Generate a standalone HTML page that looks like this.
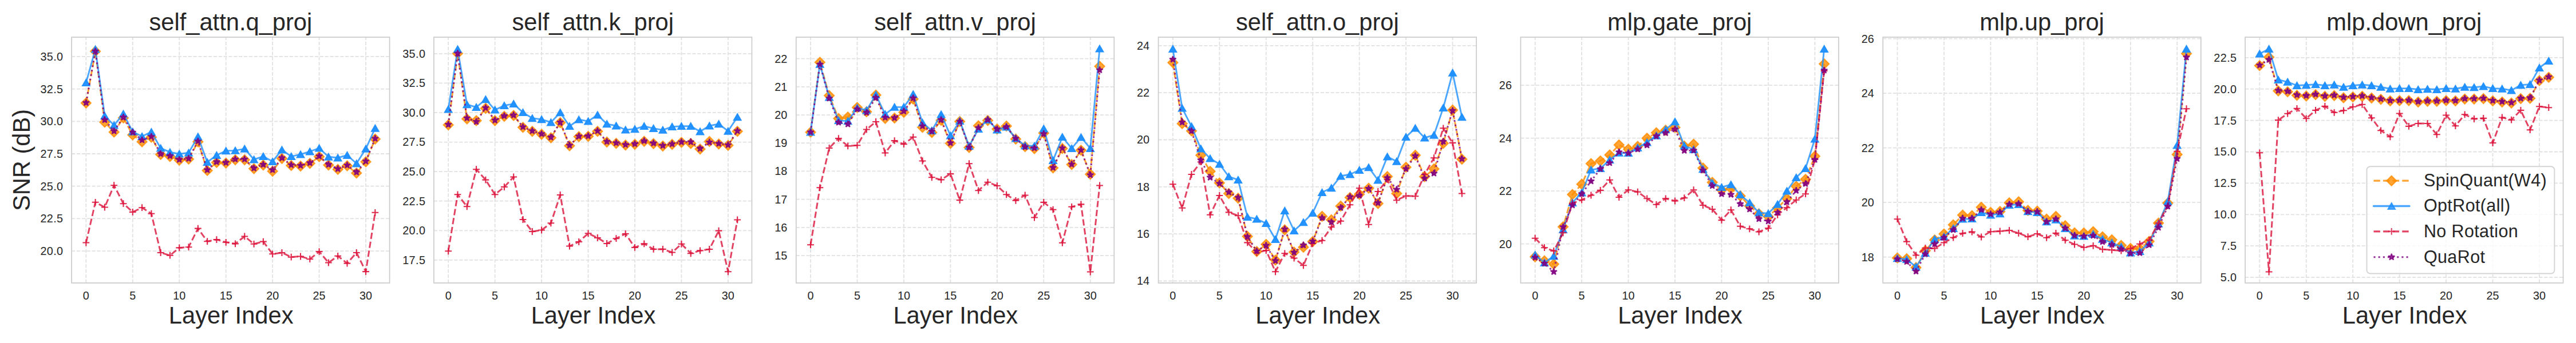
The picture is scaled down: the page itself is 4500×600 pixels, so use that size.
<!DOCTYPE html>
<html><head><meta charset="utf-8"><title>SNR per layer</title>
<style>html,body{margin:0;padding:0;background:#fff}svg{display:block}</style></head>
<body>
<svg width="4500" height="600" viewBox="0 0 4500 600" font-family="'Liberation Sans', Arial, sans-serif" fill="#262626">
<defs>
<path id="mD" d="M0,-8.55 L8.55,0 L0,8.55 L-8.55,0 Z" fill="#FF8C00" fill-opacity="0.8" stroke="#FF8C00" stroke-opacity="0.8" stroke-width="2.08" stroke-linejoin="miter"/>
<path id="mT" d="M0,-5.51 L6.25,5.36 L-6.25,5.36 Z" fill="#1E90FF" fill-opacity="0.96" stroke="#1E90FF" stroke-opacity="0.96" stroke-width="2.08" stroke-linejoin="miter"/>
<path id="mS" d="M0,-5.9 L1.32,-1.82 L5.61,-1.82 L2.14,0.7 L3.47,4.77 L0,2.25 L-3.47,4.77 L-2.14,0.7 L-5.61,-1.82 L-1.32,-1.82 Z" fill="#800080" fill-opacity="0.85" stroke="#800080" stroke-opacity="0.85" stroke-width="2.08" stroke-linejoin="bevel"/>
<path id="mP" d="M-5.9,0 H5.9 M0,-5.9 V5.9" fill="none" stroke="#DC143C" stroke-opacity="0.92" stroke-width="2.08"/>
<path id="mDl" d="M0,-8.55 L8.55,0 L0,8.55 L-8.55,0 Z" fill="#FF8C00" fill-opacity="0.8" stroke="#FF8C00" stroke-opacity="0.8" stroke-width="2.08" stroke-linejoin="miter"/>
<path id="mTl" d="M0,-5.51 L6.25,5.36 L-6.25,5.36 Z" fill="#1E90FF" fill-opacity="0.8" stroke="#1E90FF" stroke-opacity="0.8" stroke-width="2.08" stroke-linejoin="miter"/>
<path id="mSl" d="M0,-5.9 L1.32,-1.82 L5.61,-1.82 L2.14,0.7 L3.47,4.77 L0,2.25 L-3.47,4.77 L-2.14,0.7 L-5.61,-1.82 L-1.32,-1.82 Z" fill="#800080" fill-opacity="0.8" stroke="#800080" stroke-opacity="0.8" stroke-width="2.08" stroke-linejoin="bevel"/>
<path id="mPl" d="M-5.9,0 H5.9 M0,-5.9 V5.9" fill="none" stroke="#DC143C" stroke-opacity="0.8" stroke-width="2.08"/>
</defs>
<g>
<path d="M150.35,495 V65 M231.8,495 V65 M313.25,495 V65 M394.7,495 V65 M476.15,495 V65 M557.6,495 V65 M639.05,495 V65 M125.1,98.9 H680.6 M125.1,155.6 H680.6 M125.1,212.3 H680.6 M125.1,269 H680.6 M125.1,325.7 H680.6 M125.1,382.4 H680.6 M125.1,439.1 H680.6" fill="none" stroke="#e1e1e1" stroke-width="1.8" stroke-dasharray="6.18 2.67"/>
<polyline points="150.35,180.2 166.64,89.8 182.93,213.8 199.22,231 215.51,206.2 231.8,236 248.09,248 264.38,240 280.67,270.2 296.96,273.7 313.25,280.2 329.54,278.3 345.83,248 362.12,298.2 378.41,284.2 394.7,285.3 410.99,279.5 427.28,279.5 443.57,295.1 459.86,288.8 476.15,299.5 492.44,277.2 508.73,289.5 525.02,290.5 541.31,285.8 557.6,274.1 573.89,288.8 590.18,296.3 606.47,290 622.76,302.8 639.05,283 655.34,243.3" fill="none" stroke="#FF8C00" stroke-opacity="0.8" stroke-linejoin="round" stroke-width="3.0" stroke-dasharray="11.1 4.8"/>
<use href="#mD" x="150.35" y="180.2"/><use href="#mD" x="166.64" y="89.8"/><use href="#mD" x="182.93" y="213.8"/><use href="#mD" x="199.22" y="231"/><use href="#mD" x="215.51" y="206.2"/><use href="#mD" x="231.8" y="236"/><use href="#mD" x="248.09" y="248"/><use href="#mD" x="264.38" y="240"/><use href="#mD" x="280.67" y="270.2"/><use href="#mD" x="296.96" y="273.7"/><use href="#mD" x="313.25" y="280.2"/><use href="#mD" x="329.54" y="278.3"/><use href="#mD" x="345.83" y="248"/><use href="#mD" x="362.12" y="298.2"/><use href="#mD" x="378.41" y="284.2"/><use href="#mD" x="394.7" y="285.3"/><use href="#mD" x="410.99" y="279.5"/><use href="#mD" x="427.28" y="279.5"/><use href="#mD" x="443.57" y="295.1"/><use href="#mD" x="459.86" y="288.8"/><use href="#mD" x="476.15" y="299.5"/><use href="#mD" x="492.44" y="277.2"/><use href="#mD" x="508.73" y="289.5"/><use href="#mD" x="525.02" y="290.5"/><use href="#mD" x="541.31" y="285.8"/><use href="#mD" x="557.6" y="274.1"/><use href="#mD" x="573.89" y="288.8"/><use href="#mD" x="590.18" y="296.3"/><use href="#mD" x="606.47" y="290"/><use href="#mD" x="622.76" y="302.8"/><use href="#mD" x="639.05" y="283"/><use href="#mD" x="655.34" y="243.3"/>
<polyline points="150.35,144.6 166.64,86.2 182.93,202.7 199.22,219 215.51,199.2 231.8,230.4 248.09,238.5 264.38,230.8 280.67,259.2 296.96,266.2 313.25,269.2 329.54,267.3 345.83,239 362.12,283.7 378.41,271.5 394.7,263.8 410.99,263.4 427.28,260.3 443.57,279 459.86,273.6 476.15,282.5 492.44,262 508.73,273.6 525.02,270.1 541.31,265 557.6,259.2 573.89,274.3 590.18,276 606.47,271.5 622.76,286 639.05,260.3 655.34,224.3" fill="none" stroke="#1E90FF" stroke-opacity="0.8" stroke-linejoin="round" stroke-width="2.9"/>
<use href="#mT" x="150.35" y="144.6"/><use href="#mT" x="166.64" y="86.2"/><use href="#mT" x="182.93" y="202.7"/><use href="#mT" x="199.22" y="219"/><use href="#mT" x="215.51" y="199.2"/><use href="#mT" x="231.8" y="230.4"/><use href="#mT" x="248.09" y="238.5"/><use href="#mT" x="264.38" y="230.8"/><use href="#mT" x="280.67" y="259.2"/><use href="#mT" x="296.96" y="266.2"/><use href="#mT" x="313.25" y="269.2"/><use href="#mT" x="329.54" y="267.3"/><use href="#mT" x="345.83" y="239"/><use href="#mT" x="362.12" y="283.7"/><use href="#mT" x="378.41" y="271.5"/><use href="#mT" x="394.7" y="263.8"/><use href="#mT" x="410.99" y="263.4"/><use href="#mT" x="427.28" y="260.3"/><use href="#mT" x="443.57" y="279"/><use href="#mT" x="459.86" y="273.6"/><use href="#mT" x="476.15" y="282.5"/><use href="#mT" x="492.44" y="262"/><use href="#mT" x="508.73" y="273.6"/><use href="#mT" x="525.02" y="270.1"/><use href="#mT" x="541.31" y="265"/><use href="#mT" x="557.6" y="259.2"/><use href="#mT" x="573.89" y="274.3"/><use href="#mT" x="590.18" y="276"/><use href="#mT" x="606.47" y="271.5"/><use href="#mT" x="622.76" y="286"/><use href="#mT" x="639.05" y="260.3"/><use href="#mT" x="655.34" y="224.3"/>
<polyline points="150.35,424.5 166.64,353.8 182.93,362.5 199.22,324.2 215.51,356.2 231.8,370.9 248.09,363.2 264.38,373.7 280.67,442 296.96,446.7 313.25,433.4 329.54,432.2 345.83,399.6 362.12,422.2 378.41,419.1 394.7,423.8 410.99,426.4 427.28,413.5 443.57,426.8 459.86,422.6 476.15,444.3 492.44,442 508.73,449.7 525.02,448.5 541.31,453.2 557.6,440.1 573.89,459.5 590.18,447.8 606.47,460.6 622.76,442 639.05,475.1 655.34,371.8" fill="none" stroke="#DC143C" stroke-opacity="0.8" stroke-linejoin="round" stroke-width="3.0" stroke-dasharray="11.1 4.8"/>
<use href="#mP" x="150.35" y="424.5"/><use href="#mP" x="166.64" y="353.8"/><use href="#mP" x="182.93" y="362.5"/><use href="#mP" x="199.22" y="324.2"/><use href="#mP" x="215.51" y="356.2"/><use href="#mP" x="231.8" y="370.9"/><use href="#mP" x="248.09" y="363.2"/><use href="#mP" x="264.38" y="373.7"/><use href="#mP" x="280.67" y="442"/><use href="#mP" x="296.96" y="446.7"/><use href="#mP" x="313.25" y="433.4"/><use href="#mP" x="329.54" y="432.2"/><use href="#mP" x="345.83" y="399.6"/><use href="#mP" x="362.12" y="422.2"/><use href="#mP" x="378.41" y="419.1"/><use href="#mP" x="394.7" y="423.8"/><use href="#mP" x="410.99" y="426.4"/><use href="#mP" x="427.28" y="413.5"/><use href="#mP" x="443.57" y="426.8"/><use href="#mP" x="459.86" y="422.6"/><use href="#mP" x="476.15" y="444.3"/><use href="#mP" x="492.44" y="442"/><use href="#mP" x="508.73" y="449.7"/><use href="#mP" x="525.02" y="448.5"/><use href="#mP" x="541.31" y="453.2"/><use href="#mP" x="557.6" y="440.1"/><use href="#mP" x="573.89" y="459.5"/><use href="#mP" x="590.18" y="447.8"/><use href="#mP" x="606.47" y="460.6"/><use href="#mP" x="622.76" y="442"/><use href="#mP" x="639.05" y="475.1"/><use href="#mP" x="655.34" y="371.8"/>
<polyline points="150.35,179.7 166.64,89.6 182.93,209.7 199.22,229.2 215.51,205.1 231.8,231.5 248.09,245 264.38,239 280.67,269.2 296.96,272.7 313.25,279.2 329.54,277.3 345.83,247 362.12,297.2 378.41,283.2 394.7,284.3 410.99,278.5 427.28,278.5 443.57,294.1 459.86,287.8 476.15,297.2 492.44,276.2 508.73,288.5 525.02,289.5 541.31,284.8 557.6,273.1 573.89,287.8 590.18,295.3 606.47,289 622.76,301.1 639.05,282 655.34,242.3" fill="none" stroke="#800080" stroke-opacity="0.8" stroke-linejoin="round" stroke-width="3.0" stroke-dasharray="3.0 4.95"/>
<use href="#mS" x="150.35" y="179.7"/><use href="#mS" x="166.64" y="89.6"/><use href="#mS" x="182.93" y="209.7"/><use href="#mS" x="199.22" y="229.2"/><use href="#mS" x="215.51" y="205.1"/><use href="#mS" x="231.8" y="231.5"/><use href="#mS" x="248.09" y="245"/><use href="#mS" x="264.38" y="239"/><use href="#mS" x="280.67" y="269.2"/><use href="#mS" x="296.96" y="272.7"/><use href="#mS" x="313.25" y="279.2"/><use href="#mS" x="329.54" y="277.3"/><use href="#mS" x="345.83" y="247"/><use href="#mS" x="362.12" y="297.2"/><use href="#mS" x="378.41" y="283.2"/><use href="#mS" x="394.7" y="284.3"/><use href="#mS" x="410.99" y="278.5"/><use href="#mS" x="427.28" y="278.5"/><use href="#mS" x="443.57" y="294.1"/><use href="#mS" x="459.86" y="287.8"/><use href="#mS" x="476.15" y="297.2"/><use href="#mS" x="492.44" y="276.2"/><use href="#mS" x="508.73" y="288.5"/><use href="#mS" x="525.02" y="289.5"/><use href="#mS" x="541.31" y="284.8"/><use href="#mS" x="557.6" y="273.1"/><use href="#mS" x="573.89" y="287.8"/><use href="#mS" x="590.18" y="295.3"/><use href="#mS" x="606.47" y="289"/><use href="#mS" x="622.76" y="301.1"/><use href="#mS" x="639.05" y="282"/><use href="#mS" x="655.34" y="242.3"/>
<rect x="125.1" y="65" width="555.5" height="430" fill="none" stroke="#cccccc" stroke-width="1.74"/>
<text x="402.85" y="52.5" font-size="41.67" text-anchor="middle">self_attn.q_proj</text>
<text x="403.65" y="566.2" font-size="41.67" text-anchor="middle">Layer Index</text>
<g font-size="19.8" text-anchor="middle"><text x="150.35" y="523.5">0</text><text x="231.8" y="523.5">5</text><text x="313.25" y="523.5">10</text><text x="394.7" y="523.5">15</text><text x="476.15" y="523.5">20</text><text x="557.6" y="523.5">25</text><text x="639.05" y="523.5">30</text></g>
<g font-size="19.8" text-anchor="end" letter-spacing="0.4"><text x="110.5" y="105.8">35.0</text><text x="110.5" y="162.5">32.5</text><text x="110.5" y="219.2">30.0</text><text x="110.5" y="275.9">27.5</text><text x="110.5" y="332.6">25.0</text><text x="110.5" y="389.3">22.5</text><text x="110.5" y="446">20.0</text></g>
</g>
<g>
<path d="M783.18,495 V65 M864.63,495 V65 M946.08,495 V65 M1027.53,495 V65 M1108.98,495 V65 M1190.43,495 V65 M1271.88,495 V65 M757.93,93.8 H1313.43 M757.93,145.38 H1313.43 M757.93,196.96 H1313.43 M757.93,248.54 H1313.43 M757.93,300.12 H1313.43 M757.93,351.7 H1313.43 M757.93,403.28 H1313.43 M757.93,454.86 H1313.43" fill="none" stroke="#e1e1e1" stroke-width="1.8" stroke-dasharray="6.18 2.67"/>
<polyline points="783.18,218.6 799.47,93.6 815.76,208 832.05,211 848.34,189.4 864.63,211.1 880.92,203.5 897.21,202.1 913.5,222.8 929.79,229.8 946.08,234.9 962.37,241 978.66,214.6 994.95,255 1011.24,239.1 1027.53,238.6 1043.82,229.8 1060.11,248.4 1076.4,250.8 1092.69,253.8 1108.98,252.4 1125.27,247.3 1141.56,251.2 1157.85,255.4 1174.14,252.6 1190.43,249.1 1206.72,251 1223.01,260.8 1239.3,247.5 1255.59,251.9 1271.88,254.3 1288.17,229.8" fill="none" stroke="#FF8C00" stroke-opacity="0.8" stroke-linejoin="round" stroke-width="3.0" stroke-dasharray="11.1 4.8"/>
<use href="#mD" x="783.18" y="218.6"/><use href="#mD" x="799.47" y="93.6"/><use href="#mD" x="815.76" y="208"/><use href="#mD" x="832.05" y="211"/><use href="#mD" x="848.34" y="189.4"/><use href="#mD" x="864.63" y="211.1"/><use href="#mD" x="880.92" y="203.5"/><use href="#mD" x="897.21" y="202.1"/><use href="#mD" x="913.5" y="222.8"/><use href="#mD" x="929.79" y="229.8"/><use href="#mD" x="946.08" y="234.9"/><use href="#mD" x="962.37" y="241"/><use href="#mD" x="978.66" y="214.6"/><use href="#mD" x="994.95" y="255"/><use href="#mD" x="1011.24" y="239.1"/><use href="#mD" x="1027.53" y="238.6"/><use href="#mD" x="1043.82" y="229.8"/><use href="#mD" x="1060.11" y="248.4"/><use href="#mD" x="1076.4" y="250.8"/><use href="#mD" x="1092.69" y="253.8"/><use href="#mD" x="1108.98" y="252.4"/><use href="#mD" x="1125.27" y="247.3"/><use href="#mD" x="1141.56" y="251.2"/><use href="#mD" x="1157.85" y="255.4"/><use href="#mD" x="1174.14" y="252.6"/><use href="#mD" x="1190.43" y="249.1"/><use href="#mD" x="1206.72" y="251"/><use href="#mD" x="1223.01" y="260.8"/><use href="#mD" x="1239.3" y="247.5"/><use href="#mD" x="1255.59" y="251.9"/><use href="#mD" x="1271.88" y="254.3"/><use href="#mD" x="1288.17" y="229.8"/>
<polyline points="783.18,191 799.47,86 815.76,182.8 832.05,187.5 848.34,173.9 864.63,192.1 880.92,184.7 897.21,181.6 913.5,196.7 929.79,206.8 946.08,208.9 962.37,214 978.66,196.9 994.95,220.7 1011.24,209.2 1027.53,212.1 1043.82,201 1060.11,216.9 1076.4,220 1092.69,227 1108.98,225.8 1125.27,220.7 1141.56,224.6 1157.85,227.4 1174.14,221.6 1190.43,220.7 1206.72,220.7 1223.01,230 1239.3,220 1255.59,216.9 1271.88,229.3 1288.17,204.8" fill="none" stroke="#1E90FF" stroke-opacity="0.8" stroke-linejoin="round" stroke-width="2.9"/>
<use href="#mT" x="783.18" y="191"/><use href="#mT" x="799.47" y="86"/><use href="#mT" x="815.76" y="182.8"/><use href="#mT" x="832.05" y="187.5"/><use href="#mT" x="848.34" y="173.9"/><use href="#mT" x="864.63" y="192.1"/><use href="#mT" x="880.92" y="184.7"/><use href="#mT" x="897.21" y="181.6"/><use href="#mT" x="913.5" y="196.7"/><use href="#mT" x="929.79" y="206.8"/><use href="#mT" x="946.08" y="208.9"/><use href="#mT" x="962.37" y="214"/><use href="#mT" x="978.66" y="196.9"/><use href="#mT" x="994.95" y="220.7"/><use href="#mT" x="1011.24" y="209.2"/><use href="#mT" x="1027.53" y="212.1"/><use href="#mT" x="1043.82" y="201"/><use href="#mT" x="1060.11" y="216.9"/><use href="#mT" x="1076.4" y="220"/><use href="#mT" x="1092.69" y="227"/><use href="#mT" x="1108.98" y="225.8"/><use href="#mT" x="1125.27" y="220.7"/><use href="#mT" x="1141.56" y="224.6"/><use href="#mT" x="1157.85" y="227.4"/><use href="#mT" x="1174.14" y="221.6"/><use href="#mT" x="1190.43" y="220.7"/><use href="#mT" x="1206.72" y="220.7"/><use href="#mT" x="1223.01" y="230"/><use href="#mT" x="1239.3" y="220"/><use href="#mT" x="1255.59" y="216.9"/><use href="#mT" x="1271.88" y="229.3"/><use href="#mT" x="1288.17" y="204.8"/>
<polyline points="783.18,439.3 799.47,340.3 815.76,361.3 832.05,296.2 848.34,314.6 864.63,340.3 880.92,327 897.21,309.5 913.5,384 929.79,405 946.08,402.5 962.37,390.3 978.66,341 994.95,430.5 1011.24,423 1027.53,408.3 1043.82,416 1060.11,426 1076.4,417.2 1092.69,409 1108.98,432.9 1125.27,426.4 1141.56,435.9 1157.85,435.9 1174.14,441.5 1190.43,426.8 1206.72,443.3 1223.01,438.4 1239.3,436 1255.59,403.6 1271.88,475.3 1288.17,384.5" fill="none" stroke="#DC143C" stroke-opacity="0.8" stroke-linejoin="round" stroke-width="3.0" stroke-dasharray="11.1 4.8"/>
<use href="#mP" x="783.18" y="439.3"/><use href="#mP" x="799.47" y="340.3"/><use href="#mP" x="815.76" y="361.3"/><use href="#mP" x="832.05" y="296.2"/><use href="#mP" x="848.34" y="314.6"/><use href="#mP" x="864.63" y="340.3"/><use href="#mP" x="880.92" y="327"/><use href="#mP" x="897.21" y="309.5"/><use href="#mP" x="913.5" y="384"/><use href="#mP" x="929.79" y="405"/><use href="#mP" x="946.08" y="402.5"/><use href="#mP" x="962.37" y="390.3"/><use href="#mP" x="978.66" y="341"/><use href="#mP" x="994.95" y="430.5"/><use href="#mP" x="1011.24" y="423"/><use href="#mP" x="1027.53" y="408.3"/><use href="#mP" x="1043.82" y="416"/><use href="#mP" x="1060.11" y="426"/><use href="#mP" x="1076.4" y="417.2"/><use href="#mP" x="1092.69" y="409"/><use href="#mP" x="1108.98" y="432.9"/><use href="#mP" x="1125.27" y="426.4"/><use href="#mP" x="1141.56" y="435.9"/><use href="#mP" x="1157.85" y="435.9"/><use href="#mP" x="1174.14" y="441.5"/><use href="#mP" x="1190.43" y="426.8"/><use href="#mP" x="1206.72" y="443.3"/><use href="#mP" x="1223.01" y="438.4"/><use href="#mP" x="1239.3" y="436"/><use href="#mP" x="1255.59" y="403.6"/><use href="#mP" x="1271.88" y="475.3"/><use href="#mP" x="1288.17" y="384.5"/>
<polyline points="783.18,217.8 799.47,93.4 815.76,206.5 832.05,212.8 848.34,188.6 864.63,210.3 880.92,202.7 897.21,201.3 913.5,222 929.79,229 946.08,234.1 962.37,240.2 978.66,213.8 994.95,254.2 1011.24,238.3 1027.53,237.8 1043.82,229 1060.11,247.6 1076.4,250 1092.69,253 1108.98,251.6 1125.27,246.5 1141.56,250.4 1157.85,254.6 1174.14,251.8 1190.43,248.3 1206.72,248.3 1223.01,260 1239.3,248.8 1255.59,251.1 1271.88,253.5 1288.17,229" fill="none" stroke="#800080" stroke-opacity="0.8" stroke-linejoin="round" stroke-width="3.0" stroke-dasharray="3.0 4.95"/>
<use href="#mS" x="783.18" y="217.8"/><use href="#mS" x="799.47" y="93.4"/><use href="#mS" x="815.76" y="206.5"/><use href="#mS" x="832.05" y="212.8"/><use href="#mS" x="848.34" y="188.6"/><use href="#mS" x="864.63" y="210.3"/><use href="#mS" x="880.92" y="202.7"/><use href="#mS" x="897.21" y="201.3"/><use href="#mS" x="913.5" y="222"/><use href="#mS" x="929.79" y="229"/><use href="#mS" x="946.08" y="234.1"/><use href="#mS" x="962.37" y="240.2"/><use href="#mS" x="978.66" y="213.8"/><use href="#mS" x="994.95" y="254.2"/><use href="#mS" x="1011.24" y="238.3"/><use href="#mS" x="1027.53" y="237.8"/><use href="#mS" x="1043.82" y="229"/><use href="#mS" x="1060.11" y="247.6"/><use href="#mS" x="1076.4" y="250"/><use href="#mS" x="1092.69" y="253"/><use href="#mS" x="1108.98" y="251.6"/><use href="#mS" x="1125.27" y="246.5"/><use href="#mS" x="1141.56" y="250.4"/><use href="#mS" x="1157.85" y="254.6"/><use href="#mS" x="1174.14" y="251.8"/><use href="#mS" x="1190.43" y="248.3"/><use href="#mS" x="1206.72" y="248.3"/><use href="#mS" x="1223.01" y="260"/><use href="#mS" x="1239.3" y="248.8"/><use href="#mS" x="1255.59" y="251.1"/><use href="#mS" x="1271.88" y="253.5"/><use href="#mS" x="1288.17" y="229"/>
<rect x="757.93" y="65" width="555.5" height="430" fill="none" stroke="#cccccc" stroke-width="1.74"/>
<text x="1035.68" y="52.5" font-size="41.67" text-anchor="middle">self_attn.k_proj</text>
<text x="1036.48" y="566.2" font-size="41.67" text-anchor="middle">Layer Index</text>
<g font-size="19.8" text-anchor="middle"><text x="783.18" y="523.5">0</text><text x="864.63" y="523.5">5</text><text x="946.08" y="523.5">10</text><text x="1027.53" y="523.5">15</text><text x="1108.98" y="523.5">20</text><text x="1190.43" y="523.5">25</text><text x="1271.88" y="523.5">30</text></g>
<g font-size="19.8" text-anchor="end" letter-spacing="0.4"><text x="743.33" y="100.7">35.0</text><text x="743.33" y="152.28">32.5</text><text x="743.33" y="203.86">30.0</text><text x="743.33" y="255.44">27.5</text><text x="743.33" y="307.02">25.0</text><text x="743.33" y="358.6">22.5</text><text x="743.33" y="410.18">20.0</text><text x="743.33" y="461.76">17.5</text></g>
</g>
<g>
<path d="M1416.01,495 V65 M1497.46,495 V65 M1578.91,495 V65 M1660.36,495 V65 M1741.81,495 V65 M1823.26,495 V65 M1904.71,495 V65 M1390.76,102.7 H1946.26 M1390.76,151.89 H1946.26 M1390.76,201.08 H1946.26 M1390.76,250.27 H1946.26 M1390.76,299.46 H1946.26 M1390.76,348.65 H1946.26 M1390.76,397.84 H1946.26 M1390.76,447.03 H1946.26" fill="none" stroke="#e1e1e1" stroke-width="1.8" stroke-dasharray="6.18 2.67"/>
<polyline points="1416.01,231.2 1432.3,109 1448.59,167.3 1464.88,207.2 1481.17,204.8 1497.46,188 1513.75,195.5 1530.04,166.2 1546.33,207.2 1562.62,206.5 1578.91,196.5 1595.2,173.2 1611.49,222.8 1627.78,231.7 1644.07,210.5 1660.36,250.8 1676.65,212.5 1692.94,258 1709.23,220 1725.52,210.7 1741.81,225.8 1758.1,220.5 1774.39,243.3 1790.68,256.5 1806.97,260 1823.26,232.8 1839.55,293.8 1855.84,259.8 1872.13,287.8 1888.42,262.8 1904.71,304.8 1921,116" fill="none" stroke="#FF8C00" stroke-opacity="0.8" stroke-linejoin="round" stroke-width="3.0" stroke-dasharray="11.1 4.8"/>
<use href="#mD" x="1416.01" y="231.2"/><use href="#mD" x="1432.3" y="109"/><use href="#mD" x="1448.59" y="167.3"/><use href="#mD" x="1464.88" y="207.2"/><use href="#mD" x="1481.17" y="204.8"/><use href="#mD" x="1497.46" y="188"/><use href="#mD" x="1513.75" y="195.5"/><use href="#mD" x="1530.04" y="166.2"/><use href="#mD" x="1546.33" y="207.2"/><use href="#mD" x="1562.62" y="206.5"/><use href="#mD" x="1578.91" y="196.5"/><use href="#mD" x="1595.2" y="173.2"/><use href="#mD" x="1611.49" y="222.8"/><use href="#mD" x="1627.78" y="231.7"/><use href="#mD" x="1644.07" y="210.5"/><use href="#mD" x="1660.36" y="250.8"/><use href="#mD" x="1676.65" y="212.5"/><use href="#mD" x="1692.94" y="258"/><use href="#mD" x="1709.23" y="220"/><use href="#mD" x="1725.52" y="210.7"/><use href="#mD" x="1741.81" y="225.8"/><use href="#mD" x="1758.1" y="220.5"/><use href="#mD" x="1774.39" y="243.3"/><use href="#mD" x="1790.68" y="256.5"/><use href="#mD" x="1806.97" y="260"/><use href="#mD" x="1823.26" y="232.8"/><use href="#mD" x="1839.55" y="293.8"/><use href="#mD" x="1855.84" y="259.8"/><use href="#mD" x="1872.13" y="287.8"/><use href="#mD" x="1888.42" y="262.8"/><use href="#mD" x="1904.71" y="304.8"/><use href="#mD" x="1921" y="116"/>
<polyline points="1416.01,231 1432.3,112.3 1448.59,170 1464.88,210.7 1481.17,211.8 1497.46,188.5 1513.75,193 1530.04,165.8 1546.33,199.8 1562.62,187.4 1578.91,187.2 1595.2,164.8 1611.49,214.5 1627.78,228.5 1644.07,200 1660.36,237.1 1676.65,211.5 1692.94,255.5 1709.23,225.7 1725.52,209.5 1741.81,227 1758.1,222 1774.39,242 1790.68,254.8 1806.97,255.3 1823.26,225 1839.55,280.6 1855.84,239.7 1872.13,259.5 1888.42,240.1 1904.71,259.5 1921,85.2" fill="none" stroke="#1E90FF" stroke-opacity="0.8" stroke-linejoin="round" stroke-width="2.9"/>
<use href="#mT" x="1416.01" y="231"/><use href="#mT" x="1432.3" y="112.3"/><use href="#mT" x="1448.59" y="170"/><use href="#mT" x="1464.88" y="210.7"/><use href="#mT" x="1481.17" y="211.8"/><use href="#mT" x="1497.46" y="188.5"/><use href="#mT" x="1513.75" y="193"/><use href="#mT" x="1530.04" y="165.8"/><use href="#mT" x="1546.33" y="199.8"/><use href="#mT" x="1562.62" y="187.4"/><use href="#mT" x="1578.91" y="187.2"/><use href="#mT" x="1595.2" y="164.8"/><use href="#mT" x="1611.49" y="214.5"/><use href="#mT" x="1627.78" y="228.5"/><use href="#mT" x="1644.07" y="200"/><use href="#mT" x="1660.36" y="237.1"/><use href="#mT" x="1676.65" y="211.5"/><use href="#mT" x="1692.94" y="255.5"/><use href="#mT" x="1709.23" y="225.7"/><use href="#mT" x="1725.52" y="209.5"/><use href="#mT" x="1741.81" y="227"/><use href="#mT" x="1758.1" y="222"/><use href="#mT" x="1774.39" y="242"/><use href="#mT" x="1790.68" y="254.8"/><use href="#mT" x="1806.97" y="255.3"/><use href="#mT" x="1823.26" y="225"/><use href="#mT" x="1839.55" y="280.6"/><use href="#mT" x="1855.84" y="239.7"/><use href="#mT" x="1872.13" y="259.5"/><use href="#mT" x="1888.42" y="240.1"/><use href="#mT" x="1904.71" y="259.5"/><use href="#mT" x="1921" y="85.2"/>
<polyline points="1416.01,428.3 1432.3,328.2 1448.59,259 1464.88,242.1 1481.17,255.4 1497.46,254.2 1513.75,226.5 1530.04,213 1546.33,267.5 1562.62,246.1 1578.91,252.2 1595.2,239.8 1611.49,281.5 1627.78,310.3 1644.07,314.4 1660.36,304.1 1676.65,350.1 1692.94,286.2 1709.23,333.3 1725.52,318.7 1741.81,325 1758.1,340.3 1774.39,350.8 1790.68,341.5 1806.97,380.5 1823.26,353.9 1839.55,366.7 1855.84,424.8 1872.13,361.8 1888.42,357.4 1904.71,475.5 1921,324.5" fill="none" stroke="#DC143C" stroke-opacity="0.8" stroke-linejoin="round" stroke-width="3.0" stroke-dasharray="11.1 4.8"/>
<use href="#mP" x="1416.01" y="428.3"/><use href="#mP" x="1432.3" y="328.2"/><use href="#mP" x="1448.59" y="259"/><use href="#mP" x="1464.88" y="242.1"/><use href="#mP" x="1481.17" y="255.4"/><use href="#mP" x="1497.46" y="254.2"/><use href="#mP" x="1513.75" y="226.5"/><use href="#mP" x="1530.04" y="213"/><use href="#mP" x="1546.33" y="267.5"/><use href="#mP" x="1562.62" y="246.1"/><use href="#mP" x="1578.91" y="252.2"/><use href="#mP" x="1595.2" y="239.8"/><use href="#mP" x="1611.49" y="281.5"/><use href="#mP" x="1627.78" y="310.3"/><use href="#mP" x="1644.07" y="314.4"/><use href="#mP" x="1660.36" y="304.1"/><use href="#mP" x="1676.65" y="350.1"/><use href="#mP" x="1692.94" y="286.2"/><use href="#mP" x="1709.23" y="333.3"/><use href="#mP" x="1725.52" y="318.7"/><use href="#mP" x="1741.81" y="325"/><use href="#mP" x="1758.1" y="340.3"/><use href="#mP" x="1774.39" y="350.8"/><use href="#mP" x="1790.68" y="341.5"/><use href="#mP" x="1806.97" y="380.5"/><use href="#mP" x="1823.26" y="353.9"/><use href="#mP" x="1839.55" y="366.7"/><use href="#mP" x="1855.84" y="424.8"/><use href="#mP" x="1872.13" y="361.8"/><use href="#mP" x="1888.42" y="357.4"/><use href="#mP" x="1904.71" y="475.5"/><use href="#mP" x="1921" y="324.5"/>
<polyline points="1416.01,231.2 1432.3,112.5 1448.59,172 1464.88,214.2 1481.17,217.2 1497.46,190.8 1513.75,197 1530.04,170.8 1546.33,205.5 1562.62,206.2 1578.91,194.5 1595.2,171.5 1611.49,220.5 1627.78,229.8 1644.07,209.5 1660.36,250 1676.65,212.5 1692.94,257.8 1709.23,223.5 1725.52,209.5 1741.81,225.8 1758.1,221.9 1774.39,242.2 1790.68,257 1806.97,259 1823.26,234 1839.55,293.2 1855.84,259 1872.13,287.3 1888.42,262.5 1904.71,306 1921,122.5" fill="none" stroke="#800080" stroke-opacity="0.8" stroke-linejoin="round" stroke-width="3.0" stroke-dasharray="3.0 4.95"/>
<use href="#mS" x="1416.01" y="231.2"/><use href="#mS" x="1432.3" y="112.5"/><use href="#mS" x="1448.59" y="172"/><use href="#mS" x="1464.88" y="214.2"/><use href="#mS" x="1481.17" y="217.2"/><use href="#mS" x="1497.46" y="190.8"/><use href="#mS" x="1513.75" y="197"/><use href="#mS" x="1530.04" y="170.8"/><use href="#mS" x="1546.33" y="205.5"/><use href="#mS" x="1562.62" y="206.2"/><use href="#mS" x="1578.91" y="194.5"/><use href="#mS" x="1595.2" y="171.5"/><use href="#mS" x="1611.49" y="220.5"/><use href="#mS" x="1627.78" y="229.8"/><use href="#mS" x="1644.07" y="209.5"/><use href="#mS" x="1660.36" y="250"/><use href="#mS" x="1676.65" y="212.5"/><use href="#mS" x="1692.94" y="257.8"/><use href="#mS" x="1709.23" y="223.5"/><use href="#mS" x="1725.52" y="209.5"/><use href="#mS" x="1741.81" y="225.8"/><use href="#mS" x="1758.1" y="221.9"/><use href="#mS" x="1774.39" y="242.2"/><use href="#mS" x="1790.68" y="257"/><use href="#mS" x="1806.97" y="259"/><use href="#mS" x="1823.26" y="234"/><use href="#mS" x="1839.55" y="293.2"/><use href="#mS" x="1855.84" y="259"/><use href="#mS" x="1872.13" y="287.3"/><use href="#mS" x="1888.42" y="262.5"/><use href="#mS" x="1904.71" y="306"/><use href="#mS" x="1921" y="122.5"/>
<rect x="1390.76" y="65" width="555.5" height="430" fill="none" stroke="#cccccc" stroke-width="1.74"/>
<text x="1668.51" y="52.5" font-size="41.67" text-anchor="middle">self_attn.v_proj</text>
<text x="1669.31" y="566.2" font-size="41.67" text-anchor="middle">Layer Index</text>
<g font-size="19.8" text-anchor="middle"><text x="1416.01" y="523.5">0</text><text x="1497.46" y="523.5">5</text><text x="1578.91" y="523.5">10</text><text x="1660.36" y="523.5">15</text><text x="1741.81" y="523.5">20</text><text x="1823.26" y="523.5">25</text><text x="1904.71" y="523.5">30</text></g>
<g font-size="19.8" text-anchor="end" letter-spacing="0.15"><text x="1375.46" y="109.6">22</text><text x="1375.46" y="158.79">21</text><text x="1375.46" y="207.98">20</text><text x="1375.46" y="257.17">19</text><text x="1375.46" y="306.36">18</text><text x="1375.46" y="355.55">17</text><text x="1375.46" y="404.74">16</text><text x="1375.46" y="453.93">15</text></g>
</g>
<g>
<path d="M2048.84,495 V65 M2130.29,495 V65 M2211.74,495 V65 M2293.19,495 V65 M2374.64,495 V65 M2456.09,495 V65 M2537.54,495 V65 M2023.59,79.8 H2579.09 M2023.59,162.14 H2579.09 M2023.59,244.48 H2579.09 M2023.59,326.82 H2579.09 M2023.59,409.16 H2579.09 M2023.59,491.5 H2579.09" fill="none" stroke="#e1e1e1" stroke-width="1.8" stroke-dasharray="6.18 2.67"/>
<polyline points="2048.84,109.5 2065.13,216.2 2081.42,229 2097.71,271.5 2114,299.7 2130.29,320 2146.58,338.5 2162.87,346.7 2179.16,413.6 2195.45,440 2211.74,427.6 2228.03,455 2244.32,402 2260.61,441 2276.9,432.5 2293.19,422.5 2309.48,378.4 2325.77,384.5 2342.06,360.6 2358.35,345.5 2374.64,339.7 2390.93,329.2 2407.22,356 2423.51,308.8 2439.8,338.5 2456.09,292.5 2472.38,271.5 2488.67,309 2504.96,295.5 2521.25,250.8 2537.54,192.5 2553.83,278.5" fill="none" stroke="#FF8C00" stroke-opacity="0.8" stroke-linejoin="round" stroke-width="3.0" stroke-dasharray="11.1 4.8"/>
<use href="#mD" x="2048.84" y="109.5"/><use href="#mD" x="2065.13" y="216.2"/><use href="#mD" x="2081.42" y="229"/><use href="#mD" x="2097.71" y="271.5"/><use href="#mD" x="2114" y="299.7"/><use href="#mD" x="2130.29" y="320"/><use href="#mD" x="2146.58" y="338.5"/><use href="#mD" x="2162.87" y="346.7"/><use href="#mD" x="2179.16" y="413.6"/><use href="#mD" x="2195.45" y="440"/><use href="#mD" x="2211.74" y="427.6"/><use href="#mD" x="2228.03" y="455"/><use href="#mD" x="2244.32" y="402"/><use href="#mD" x="2260.61" y="441"/><use href="#mD" x="2276.9" y="432.5"/><use href="#mD" x="2293.19" y="422.5"/><use href="#mD" x="2309.48" y="378.4"/><use href="#mD" x="2325.77" y="384.5"/><use href="#mD" x="2342.06" y="360.6"/><use href="#mD" x="2358.35" y="345.5"/><use href="#mD" x="2374.64" y="339.7"/><use href="#mD" x="2390.93" y="329.2"/><use href="#mD" x="2407.22" y="356"/><use href="#mD" x="2423.51" y="308.8"/><use href="#mD" x="2439.8" y="338.5"/><use href="#mD" x="2456.09" y="292.5"/><use href="#mD" x="2472.38" y="271.5"/><use href="#mD" x="2488.67" y="309"/><use href="#mD" x="2504.96" y="295.5"/><use href="#mD" x="2521.25" y="250.8"/><use href="#mD" x="2537.54" y="192.5"/><use href="#mD" x="2553.83" y="278.5"/>
<polyline points="2048.84,85.5 2065.13,189.2 2081.42,221.1 2097.71,260 2114,277.2 2130.29,287 2146.58,308.8 2162.87,314.6 2179.16,379.5 2195.45,383.2 2211.74,390.6 2228.03,418.6 2244.32,368.5 2260.61,403.5 2276.9,388.8 2293.19,372.5 2309.48,336.5 2325.77,328.8 2342.06,308 2358.35,305 2374.64,297.5 2390.93,292.8 2407.22,315 2423.51,274.1 2439.8,282.3 2456.09,239.6 2472.38,224.2 2488.67,241 2504.96,236.3 2521.25,188.6 2537.54,127.4 2553.83,204.8" fill="none" stroke="#1E90FF" stroke-opacity="0.8" stroke-linejoin="round" stroke-width="2.9"/>
<use href="#mT" x="2048.84" y="85.5"/><use href="#mT" x="2065.13" y="189.2"/><use href="#mT" x="2081.42" y="221.1"/><use href="#mT" x="2097.71" y="260"/><use href="#mT" x="2114" y="277.2"/><use href="#mT" x="2130.29" y="287"/><use href="#mT" x="2146.58" y="308.8"/><use href="#mT" x="2162.87" y="314.6"/><use href="#mT" x="2179.16" y="379.5"/><use href="#mT" x="2195.45" y="383.2"/><use href="#mT" x="2211.74" y="390.6"/><use href="#mT" x="2228.03" y="418.6"/><use href="#mT" x="2244.32" y="368.5"/><use href="#mT" x="2260.61" y="403.5"/><use href="#mT" x="2276.9" y="388.8"/><use href="#mT" x="2293.19" y="372.5"/><use href="#mT" x="2309.48" y="336.5"/><use href="#mT" x="2325.77" y="328.8"/><use href="#mT" x="2342.06" y="308"/><use href="#mT" x="2358.35" y="305"/><use href="#mT" x="2374.64" y="297.5"/><use href="#mT" x="2390.93" y="292.8"/><use href="#mT" x="2407.22" y="315"/><use href="#mT" x="2423.51" y="274.1"/><use href="#mT" x="2439.8" y="282.3"/><use href="#mT" x="2456.09" y="239.6"/><use href="#mT" x="2472.38" y="224.2"/><use href="#mT" x="2488.67" y="241"/><use href="#mT" x="2504.96" y="236.3"/><use href="#mT" x="2521.25" y="188.6"/><use href="#mT" x="2537.54" y="127.4"/><use href="#mT" x="2553.83" y="204.8"/>
<polyline points="2048.84,322.2 2065.13,363.8 2081.42,305 2097.71,283.2 2114,375.8 2130.29,342 2146.58,371.4 2162.87,377.2 2179.16,424.4 2195.45,442 2211.74,438 2228.03,475.3 2244.32,443.3 2260.61,451.5 2276.9,464.3 2293.19,425.9 2309.48,420.7 2325.77,397.3 2342.06,386.8 2358.35,358.3 2374.64,329.2 2390.93,392.7 2407.22,335 2423.51,314 2439.8,350.2 2456.09,342.7 2472.38,343.2 2488.67,305 2504.96,276.2 2521.25,224.3 2537.54,249.9 2553.83,338.5" fill="none" stroke="#DC143C" stroke-opacity="0.8" stroke-linejoin="round" stroke-width="3.0" stroke-dasharray="11.1 4.8"/>
<use href="#mP" x="2048.84" y="322.2"/><use href="#mP" x="2065.13" y="363.8"/><use href="#mP" x="2081.42" y="305"/><use href="#mP" x="2097.71" y="283.2"/><use href="#mP" x="2114" y="375.8"/><use href="#mP" x="2130.29" y="342"/><use href="#mP" x="2146.58" y="371.4"/><use href="#mP" x="2162.87" y="377.2"/><use href="#mP" x="2179.16" y="424.4"/><use href="#mP" x="2195.45" y="442"/><use href="#mP" x="2211.74" y="438"/><use href="#mP" x="2228.03" y="475.3"/><use href="#mP" x="2244.32" y="443.3"/><use href="#mP" x="2260.61" y="451.5"/><use href="#mP" x="2276.9" y="464.3"/><use href="#mP" x="2293.19" y="425.9"/><use href="#mP" x="2309.48" y="420.7"/><use href="#mP" x="2325.77" y="397.3"/><use href="#mP" x="2342.06" y="386.8"/><use href="#mP" x="2358.35" y="358.3"/><use href="#mP" x="2374.64" y="329.2"/><use href="#mP" x="2390.93" y="392.7"/><use href="#mP" x="2407.22" y="335"/><use href="#mP" x="2423.51" y="314"/><use href="#mP" x="2439.8" y="350.2"/><use href="#mP" x="2456.09" y="342.7"/><use href="#mP" x="2472.38" y="343.2"/><use href="#mP" x="2488.67" y="305"/><use href="#mP" x="2504.96" y="276.2"/><use href="#mP" x="2521.25" y="224.3"/><use href="#mP" x="2537.54" y="249.9"/><use href="#mP" x="2553.83" y="338.5"/>
<polyline points="2048.84,103.9 2065.13,213.8 2081.42,229 2097.71,280.1 2114,310.3 2130.29,321 2146.58,336.2 2162.87,345.5 2179.16,414.1 2195.45,439.3 2211.74,429.3 2228.03,456.2 2244.32,400.8 2260.61,441.5 2276.9,428.8 2293.19,422 2309.48,381 2325.77,388.5 2342.06,363.3 2358.35,344.3 2374.64,342 2390.93,329.9 2407.22,354.8 2423.51,311 2439.8,331.5 2456.09,295.3 2472.38,272.7 2488.67,312 2504.96,303.2 2521.25,247.5 2537.54,193.5 2553.83,277.8" fill="none" stroke="#800080" stroke-opacity="0.8" stroke-linejoin="round" stroke-width="3.0" stroke-dasharray="3.0 4.95"/>
<use href="#mS" x="2048.84" y="103.9"/><use href="#mS" x="2065.13" y="213.8"/><use href="#mS" x="2081.42" y="229"/><use href="#mS" x="2097.71" y="280.1"/><use href="#mS" x="2114" y="310.3"/><use href="#mS" x="2130.29" y="321"/><use href="#mS" x="2146.58" y="336.2"/><use href="#mS" x="2162.87" y="345.5"/><use href="#mS" x="2179.16" y="414.1"/><use href="#mS" x="2195.45" y="439.3"/><use href="#mS" x="2211.74" y="429.3"/><use href="#mS" x="2228.03" y="456.2"/><use href="#mS" x="2244.32" y="400.8"/><use href="#mS" x="2260.61" y="441.5"/><use href="#mS" x="2276.9" y="428.8"/><use href="#mS" x="2293.19" y="422"/><use href="#mS" x="2309.48" y="381"/><use href="#mS" x="2325.77" y="388.5"/><use href="#mS" x="2342.06" y="363.3"/><use href="#mS" x="2358.35" y="344.3"/><use href="#mS" x="2374.64" y="342"/><use href="#mS" x="2390.93" y="329.9"/><use href="#mS" x="2407.22" y="354.8"/><use href="#mS" x="2423.51" y="311"/><use href="#mS" x="2439.8" y="331.5"/><use href="#mS" x="2456.09" y="295.3"/><use href="#mS" x="2472.38" y="272.7"/><use href="#mS" x="2488.67" y="312"/><use href="#mS" x="2504.96" y="303.2"/><use href="#mS" x="2521.25" y="247.5"/><use href="#mS" x="2537.54" y="193.5"/><use href="#mS" x="2553.83" y="277.8"/>
<rect x="2023.59" y="65" width="555.5" height="430" fill="none" stroke="#cccccc" stroke-width="1.74"/>
<text x="2301.34" y="52.5" font-size="41.67" text-anchor="middle">self_attn.o_proj</text>
<text x="2302.14" y="566.2" font-size="41.67" text-anchor="middle">Layer Index</text>
<g font-size="19.8" text-anchor="middle"><text x="2048.84" y="523.5">0</text><text x="2130.29" y="523.5">5</text><text x="2211.74" y="523.5">10</text><text x="2293.19" y="523.5">15</text><text x="2374.64" y="523.5">20</text><text x="2456.09" y="523.5">25</text><text x="2537.54" y="523.5">30</text></g>
<g font-size="19.8" text-anchor="end" letter-spacing="0.15"><text x="2008.29" y="86.7">24</text><text x="2008.29" y="169.04">22</text><text x="2008.29" y="251.38">20</text><text x="2008.29" y="333.72">18</text><text x="2008.29" y="416.06">16</text><text x="2008.29" y="498.4">14</text></g>
</g>
<g>
<path d="M2681.67,495 V65 M2763.12,495 V65 M2844.57,495 V65 M2926.02,495 V65 M3007.47,495 V65 M3088.92,495 V65 M3170.37,495 V65 M2656.42,149.2 H3211.92 M2656.42,241.7 H3211.92 M2656.42,334.2 H3211.92 M2656.42,426.7 H3211.92" fill="none" stroke="#e1e1e1" stroke-width="1.8" stroke-dasharray="6.18 2.67"/>
<polyline points="2681.67,449.2 2697.96,456.2 2714.25,462 2730.54,396.8 2746.83,340.3 2763.12,322.3 2779.41,286.2 2795.7,281.5 2811.99,271 2828.28,253.5 2844.57,261 2860.86,256.1 2877.15,241.7 2893.44,232.3 2909.73,227.7 2926.02,223 2942.31,255.6 2958.6,252.2 2974.89,293.9 2991.18,319 3007.47,332.2 3023.76,329.8 3040.05,342.7 3056.34,360.2 3072.63,374.1 3088.92,378.8 3105.21,363.7 3121.5,347.3 3137.79,326 3154.08,313.8 3170.37,273.2 3186.66,111.8" fill="none" stroke="#FF8C00" stroke-opacity="0.8" stroke-linejoin="round" stroke-width="3.0" stroke-dasharray="11.1 4.8"/>
<use href="#mD" x="2681.67" y="449.2"/><use href="#mD" x="2697.96" y="456.2"/><use href="#mD" x="2714.25" y="462"/><use href="#mD" x="2730.54" y="396.8"/><use href="#mD" x="2746.83" y="340.3"/><use href="#mD" x="2763.12" y="322.3"/><use href="#mD" x="2779.41" y="286.2"/><use href="#mD" x="2795.7" y="281.5"/><use href="#mD" x="2811.99" y="271"/><use href="#mD" x="2828.28" y="253.5"/><use href="#mD" x="2844.57" y="261"/><use href="#mD" x="2860.86" y="256.1"/><use href="#mD" x="2877.15" y="241.7"/><use href="#mD" x="2893.44" y="232.3"/><use href="#mD" x="2909.73" y="227.7"/><use href="#mD" x="2926.02" y="223"/><use href="#mD" x="2942.31" y="255.6"/><use href="#mD" x="2958.6" y="252.2"/><use href="#mD" x="2974.89" y="293.9"/><use href="#mD" x="2991.18" y="319"/><use href="#mD" x="3007.47" y="332.2"/><use href="#mD" x="3023.76" y="329.8"/><use href="#mD" x="3040.05" y="342.7"/><use href="#mD" x="3056.34" y="360.2"/><use href="#mD" x="3072.63" y="374.1"/><use href="#mD" x="3088.92" y="378.8"/><use href="#mD" x="3105.21" y="363.7"/><use href="#mD" x="3121.5" y="347.3"/><use href="#mD" x="3137.79" y="326"/><use href="#mD" x="3154.08" y="313.8"/><use href="#mD" x="3170.37" y="273.2"/><use href="#mD" x="3186.66" y="111.8"/>
<polyline points="2681.67,445.8 2697.96,459.5 2714.25,448 2730.54,401.5 2746.83,354.6 2763.12,337.1 2779.41,297 2795.7,294.6 2811.99,279.5 2828.28,267.3 2844.57,267.6 2860.86,258.3 2877.15,249 2893.44,237.3 2909.73,226.8 2926.02,212.8 2942.31,255 2958.6,261.5 2974.89,295.8 2991.18,320 3007.47,327.5 3023.76,322.8 3040.05,340.6 3056.34,354.6 3072.63,372.1 3088.92,373.3 3105.21,357.4 3121.5,334.1 3137.79,310.5 3154.08,294.6 3170.37,243.1 3186.66,85.5" fill="none" stroke="#1E90FF" stroke-opacity="0.8" stroke-linejoin="round" stroke-width="2.9"/>
<use href="#mT" x="2681.67" y="445.8"/><use href="#mT" x="2697.96" y="459.5"/><use href="#mT" x="2714.25" y="448"/><use href="#mT" x="2730.54" y="401.5"/><use href="#mT" x="2746.83" y="354.6"/><use href="#mT" x="2763.12" y="337.1"/><use href="#mT" x="2779.41" y="297"/><use href="#mT" x="2795.7" y="294.6"/><use href="#mT" x="2811.99" y="279.5"/><use href="#mT" x="2828.28" y="267.3"/><use href="#mT" x="2844.57" y="267.6"/><use href="#mT" x="2860.86" y="258.3"/><use href="#mT" x="2877.15" y="249"/><use href="#mT" x="2893.44" y="237.3"/><use href="#mT" x="2909.73" y="226.8"/><use href="#mT" x="2926.02" y="212.8"/><use href="#mT" x="2942.31" y="255"/><use href="#mT" x="2958.6" y="261.5"/><use href="#mT" x="2974.89" y="295.8"/><use href="#mT" x="2991.18" y="320"/><use href="#mT" x="3007.47" y="327.5"/><use href="#mT" x="3023.76" y="322.8"/><use href="#mT" x="3040.05" y="340.6"/><use href="#mT" x="3056.34" y="354.6"/><use href="#mT" x="3072.63" y="372.1"/><use href="#mT" x="3088.92" y="373.3"/><use href="#mT" x="3105.21" y="357.4"/><use href="#mT" x="3121.5" y="334.1"/><use href="#mT" x="3137.79" y="310.5"/><use href="#mT" x="3154.08" y="294.6"/><use href="#mT" x="3170.37" y="243.1"/><use href="#mT" x="3186.66" y="85.5"/>
<polyline points="2681.67,416.7 2697.96,433.2 2714.25,439 2730.54,407.3 2746.83,355.5 2763.12,349.7 2779.41,341.5 2795.7,332.9 2811.99,314.7 2828.28,345 2844.57,332.2 2860.86,335.7 2877.15,347.3 2893.44,357.8 2909.73,347.3 2926.02,351.5 2942.31,346.2 2958.6,332.2 2974.89,359 2991.18,366 3007.47,385.1 3023.76,367.2 3040.05,395.7 3056.34,400.3 3072.63,405.5 3088.92,399.2 3105.21,375.8 3121.5,363.2 3137.79,349.7 3154.08,339.2 3170.37,279 3186.66,124" fill="none" stroke="#DC143C" stroke-opacity="0.8" stroke-linejoin="round" stroke-width="3.0" stroke-dasharray="11.1 4.8"/>
<use href="#mP" x="2681.67" y="416.7"/><use href="#mP" x="2697.96" y="433.2"/><use href="#mP" x="2714.25" y="439"/><use href="#mP" x="2730.54" y="407.3"/><use href="#mP" x="2746.83" y="355.5"/><use href="#mP" x="2763.12" y="349.7"/><use href="#mP" x="2779.41" y="341.5"/><use href="#mP" x="2795.7" y="332.9"/><use href="#mP" x="2811.99" y="314.7"/><use href="#mP" x="2828.28" y="345"/><use href="#mP" x="2844.57" y="332.2"/><use href="#mP" x="2860.86" y="335.7"/><use href="#mP" x="2877.15" y="347.3"/><use href="#mP" x="2893.44" y="357.8"/><use href="#mP" x="2909.73" y="347.3"/><use href="#mP" x="2926.02" y="351.5"/><use href="#mP" x="2942.31" y="346.2"/><use href="#mP" x="2958.6" y="332.2"/><use href="#mP" x="2974.89" y="359"/><use href="#mP" x="2991.18" y="366"/><use href="#mP" x="3007.47" y="385.1"/><use href="#mP" x="3023.76" y="367.2"/><use href="#mP" x="3040.05" y="395.7"/><use href="#mP" x="3056.34" y="400.3"/><use href="#mP" x="3072.63" y="405.5"/><use href="#mP" x="3088.92" y="399.2"/><use href="#mP" x="3105.21" y="375.8"/><use href="#mP" x="3121.5" y="363.2"/><use href="#mP" x="3137.79" y="349.7"/><use href="#mP" x="3154.08" y="339.2"/><use href="#mP" x="3170.37" y="279"/><use href="#mP" x="3186.66" y="124"/>
<polyline points="2681.67,450.3 2697.96,460.8 2714.25,475.3 2730.54,397 2746.83,359 2763.12,339.2 2779.41,316.8 2795.7,295.5 2811.99,285 2828.28,266 2844.57,268 2860.86,261 2877.15,254 2893.44,238.2 2909.73,232.3 2926.02,226 2942.31,263.4 2958.6,263 2974.89,297.8 2991.18,325 3007.47,339.2 3023.76,340.3 3040.05,356.7 3056.34,366 3072.63,382.8 3088.92,387 3105.21,371.8 3121.5,353.2 3137.79,333.3 3154.08,321.4 3170.37,279.2 3186.66,123" fill="none" stroke="#800080" stroke-opacity="0.8" stroke-linejoin="round" stroke-width="3.0" stroke-dasharray="3.0 4.95"/>
<use href="#mS" x="2681.67" y="450.3"/><use href="#mS" x="2697.96" y="460.8"/><use href="#mS" x="2714.25" y="475.3"/><use href="#mS" x="2730.54" y="397"/><use href="#mS" x="2746.83" y="359"/><use href="#mS" x="2763.12" y="339.2"/><use href="#mS" x="2779.41" y="316.8"/><use href="#mS" x="2795.7" y="295.5"/><use href="#mS" x="2811.99" y="285"/><use href="#mS" x="2828.28" y="266"/><use href="#mS" x="2844.57" y="268"/><use href="#mS" x="2860.86" y="261"/><use href="#mS" x="2877.15" y="254"/><use href="#mS" x="2893.44" y="238.2"/><use href="#mS" x="2909.73" y="232.3"/><use href="#mS" x="2926.02" y="226"/><use href="#mS" x="2942.31" y="263.4"/><use href="#mS" x="2958.6" y="263"/><use href="#mS" x="2974.89" y="297.8"/><use href="#mS" x="2991.18" y="325"/><use href="#mS" x="3007.47" y="339.2"/><use href="#mS" x="3023.76" y="340.3"/><use href="#mS" x="3040.05" y="356.7"/><use href="#mS" x="3056.34" y="366"/><use href="#mS" x="3072.63" y="382.8"/><use href="#mS" x="3088.92" y="387"/><use href="#mS" x="3105.21" y="371.8"/><use href="#mS" x="3121.5" y="353.2"/><use href="#mS" x="3137.79" y="333.3"/><use href="#mS" x="3154.08" y="321.4"/><use href="#mS" x="3170.37" y="279.2"/><use href="#mS" x="3186.66" y="123"/>
<rect x="2656.42" y="65" width="555.5" height="430" fill="none" stroke="#cccccc" stroke-width="1.74"/>
<text x="2934.17" y="52.5" font-size="41.67" text-anchor="middle">mlp.gate_proj</text>
<text x="2934.97" y="566.2" font-size="41.67" text-anchor="middle">Layer Index</text>
<g font-size="19.8" text-anchor="middle"><text x="2681.67" y="523.5">0</text><text x="2763.12" y="523.5">5</text><text x="2844.57" y="523.5">10</text><text x="2926.02" y="523.5">15</text><text x="3007.47" y="523.5">20</text><text x="3088.92" y="523.5">25</text><text x="3170.37" y="523.5">30</text></g>
<g font-size="19.8" text-anchor="end" letter-spacing="0.15"><text x="2641.12" y="156.1">26</text><text x="2641.12" y="248.6">24</text><text x="2641.12" y="341.1">22</text><text x="2641.12" y="433.6">20</text></g>
</g>
<g>
<path d="M3314.5,495 V65 M3395.95,495 V65 M3477.4,495 V65 M3558.85,495 V65 M3640.3,495 V65 M3721.75,495 V65 M3803.2,495 V65 M3289.25,67.7 H3844.75 M3289.25,163.2 H3844.75 M3289.25,258.7 H3844.75 M3289.25,354.2 H3844.75 M3289.25,449.7 H3844.75" fill="none" stroke="#e1e1e1" stroke-width="1.8" stroke-dasharray="6.18 2.67"/>
<polyline points="3314.5,451.3 3330.79,452.5 3347.08,468.1 3363.37,438.5 3379.66,419.8 3395.95,409.3 3412.24,393.2 3428.53,376.2 3444.82,377.3 3461.11,362.5 3477.4,371.5 3493.69,369.9 3509.98,354.8 3526.27,352.9 3542.56,368 3558.85,369.2 3575.14,383.2 3591.43,378.5 3607.72,394.8 3624.01,407.3 3640.3,407.5 3656.59,405.2 3672.88,414.3 3689.17,419.6 3705.46,429.2 3721.75,434.5 3738.04,435 3754.33,422.2 3770.62,390.2 3786.91,355.2 3803.2,270.2 3819.49,93.8" fill="none" stroke="#FF8C00" stroke-opacity="0.8" stroke-linejoin="round" stroke-width="3.0" stroke-dasharray="11.1 4.8"/>
<use href="#mD" x="3314.5" y="451.3"/><use href="#mD" x="3330.79" y="452.5"/><use href="#mD" x="3347.08" y="468.1"/><use href="#mD" x="3363.37" y="438.5"/><use href="#mD" x="3379.66" y="419.8"/><use href="#mD" x="3395.95" y="409.3"/><use href="#mD" x="3412.24" y="393.2"/><use href="#mD" x="3428.53" y="376.2"/><use href="#mD" x="3444.82" y="377.3"/><use href="#mD" x="3461.11" y="362.5"/><use href="#mD" x="3477.4" y="371.5"/><use href="#mD" x="3493.69" y="369.9"/><use href="#mD" x="3509.98" y="354.8"/><use href="#mD" x="3526.27" y="352.9"/><use href="#mD" x="3542.56" y="368"/><use href="#mD" x="3558.85" y="369.2"/><use href="#mD" x="3575.14" y="383.2"/><use href="#mD" x="3591.43" y="378.5"/><use href="#mD" x="3607.72" y="394.8"/><use href="#mD" x="3624.01" y="407.3"/><use href="#mD" x="3640.3" y="407.5"/><use href="#mD" x="3656.59" y="405.2"/><use href="#mD" x="3672.88" y="414.3"/><use href="#mD" x="3689.17" y="419.6"/><use href="#mD" x="3705.46" y="429.2"/><use href="#mD" x="3721.75" y="434.5"/><use href="#mD" x="3738.04" y="435"/><use href="#mD" x="3754.33" y="422.2"/><use href="#mD" x="3770.62" y="390.2"/><use href="#mD" x="3786.91" y="355.2"/><use href="#mD" x="3803.2" y="270.2"/><use href="#mD" x="3819.49" y="93.8"/>
<polyline points="3314.5,451.8 3330.79,453.7 3347.08,466.8 3363.37,442.5 3379.66,418.5 3395.95,414 3412.24,399.5 3428.53,383.2 3444.82,382.7 3461.11,371.5 3477.4,376.2 3493.69,373.8 3509.98,358.7 3526.27,357.5 3542.56,369.9 3558.85,371.5 3575.14,387.8 3591.43,384.3 3607.72,399.5 3624.01,412.4 3640.3,413.2 3656.59,409.6 3672.88,418.4 3689.17,424.5 3705.46,431.5 3721.75,442 3738.04,439.7 3754.33,424.5 3770.62,391.3 3786.91,352.3 3803.2,254.2 3819.49,85.5" fill="none" stroke="#1E90FF" stroke-opacity="0.8" stroke-linejoin="round" stroke-width="2.9"/>
<use href="#mT" x="3314.5" y="451.8"/><use href="#mT" x="3330.79" y="453.7"/><use href="#mT" x="3347.08" y="466.8"/><use href="#mT" x="3363.37" y="442.5"/><use href="#mT" x="3379.66" y="418.5"/><use href="#mT" x="3395.95" y="414"/><use href="#mT" x="3412.24" y="399.5"/><use href="#mT" x="3428.53" y="383.2"/><use href="#mT" x="3444.82" y="382.7"/><use href="#mT" x="3461.11" y="371.5"/><use href="#mT" x="3477.4" y="376.2"/><use href="#mT" x="3493.69" y="373.8"/><use href="#mT" x="3509.98" y="358.7"/><use href="#mT" x="3526.27" y="357.5"/><use href="#mT" x="3542.56" y="369.9"/><use href="#mT" x="3558.85" y="371.5"/><use href="#mT" x="3575.14" y="387.8"/><use href="#mT" x="3591.43" y="384.3"/><use href="#mT" x="3607.72" y="399.5"/><use href="#mT" x="3624.01" y="412.4"/><use href="#mT" x="3640.3" y="413.2"/><use href="#mT" x="3656.59" y="409.6"/><use href="#mT" x="3672.88" y="418.4"/><use href="#mT" x="3689.17" y="424.5"/><use href="#mT" x="3705.46" y="431.5"/><use href="#mT" x="3721.75" y="442"/><use href="#mT" x="3738.04" y="439.7"/><use href="#mT" x="3754.33" y="424.5"/><use href="#mT" x="3770.62" y="391.3"/><use href="#mT" x="3786.91" y="352.3"/><use href="#mT" x="3803.2" y="254.2"/><use href="#mT" x="3819.49" y="85.5"/>
<polyline points="3314.5,383.2 3330.79,422.6 3347.08,446.5 3363.37,433.8 3379.66,434.5 3395.95,424.5 3412.24,415.5 3428.53,408.2 3444.82,405.5 3461.11,414.5 3477.4,405.2 3493.69,404.4 3509.98,403 3526.27,407.9 3542.56,414.1 3558.85,409 3575.14,415.8 3591.43,407.9 3607.72,420.2 3624.01,427.5 3640.3,432.7 3656.59,429.9 3672.88,436.2 3689.17,437.3 3705.46,438.5 3721.75,435 3738.04,426.8 3754.33,419.8 3770.62,390.2 3786.91,359.8 3803.2,264.8 3819.49,190.2" fill="none" stroke="#DC143C" stroke-opacity="0.8" stroke-linejoin="round" stroke-width="3.0" stroke-dasharray="11.1 4.8"/>
<use href="#mP" x="3314.5" y="383.2"/><use href="#mP" x="3330.79" y="422.6"/><use href="#mP" x="3347.08" y="446.5"/><use href="#mP" x="3363.37" y="433.8"/><use href="#mP" x="3379.66" y="434.5"/><use href="#mP" x="3395.95" y="424.5"/><use href="#mP" x="3412.24" y="415.5"/><use href="#mP" x="3428.53" y="408.2"/><use href="#mP" x="3444.82" y="405.5"/><use href="#mP" x="3461.11" y="414.5"/><use href="#mP" x="3477.4" y="405.2"/><use href="#mP" x="3493.69" y="404.4"/><use href="#mP" x="3509.98" y="403"/><use href="#mP" x="3526.27" y="407.9"/><use href="#mP" x="3542.56" y="414.1"/><use href="#mP" x="3558.85" y="409"/><use href="#mP" x="3575.14" y="415.8"/><use href="#mP" x="3591.43" y="407.9"/><use href="#mP" x="3607.72" y="420.2"/><use href="#mP" x="3624.01" y="427.5"/><use href="#mP" x="3640.3" y="432.7"/><use href="#mP" x="3656.59" y="429.9"/><use href="#mP" x="3672.88" y="436.2"/><use href="#mP" x="3689.17" y="437.3"/><use href="#mP" x="3705.46" y="438.5"/><use href="#mP" x="3721.75" y="435"/><use href="#mP" x="3738.04" y="426.8"/><use href="#mP" x="3754.33" y="419.8"/><use href="#mP" x="3770.62" y="390.2"/><use href="#mP" x="3786.91" y="359.8"/><use href="#mP" x="3803.2" y="264.8"/><use href="#mP" x="3819.49" y="190.2"/>
<polyline points="3314.5,453.2 3330.79,457.7 3347.08,474.6 3363.37,444.3 3379.66,426.8 3395.95,415.5 3412.24,402 3428.53,382 3444.82,382 3461.11,367 3477.4,374.5 3493.69,371 3509.98,357.5 3526.27,356.4 3542.56,369.9 3558.85,370.3 3575.14,387.8 3591.43,383.2 3607.72,399.2 3624.01,412 3640.3,413.1 3656.59,412.2 3672.88,422.9 3689.17,428 3705.46,435.5 3721.75,443.2 3738.04,442.5 3754.33,428.5 3770.62,398 3786.91,361 3803.2,277.6 3819.49,100.1" fill="none" stroke="#800080" stroke-opacity="0.8" stroke-linejoin="round" stroke-width="3.0" stroke-dasharray="3.0 4.95"/>
<use href="#mS" x="3314.5" y="453.2"/><use href="#mS" x="3330.79" y="457.7"/><use href="#mS" x="3347.08" y="474.6"/><use href="#mS" x="3363.37" y="444.3"/><use href="#mS" x="3379.66" y="426.8"/><use href="#mS" x="3395.95" y="415.5"/><use href="#mS" x="3412.24" y="402"/><use href="#mS" x="3428.53" y="382"/><use href="#mS" x="3444.82" y="382"/><use href="#mS" x="3461.11" y="367"/><use href="#mS" x="3477.4" y="374.5"/><use href="#mS" x="3493.69" y="371"/><use href="#mS" x="3509.98" y="357.5"/><use href="#mS" x="3526.27" y="356.4"/><use href="#mS" x="3542.56" y="369.9"/><use href="#mS" x="3558.85" y="370.3"/><use href="#mS" x="3575.14" y="387.8"/><use href="#mS" x="3591.43" y="383.2"/><use href="#mS" x="3607.72" y="399.2"/><use href="#mS" x="3624.01" y="412"/><use href="#mS" x="3640.3" y="413.1"/><use href="#mS" x="3656.59" y="412.2"/><use href="#mS" x="3672.88" y="422.9"/><use href="#mS" x="3689.17" y="428"/><use href="#mS" x="3705.46" y="435.5"/><use href="#mS" x="3721.75" y="443.2"/><use href="#mS" x="3738.04" y="442.5"/><use href="#mS" x="3754.33" y="428.5"/><use href="#mS" x="3770.62" y="398"/><use href="#mS" x="3786.91" y="361"/><use href="#mS" x="3803.2" y="277.6"/><use href="#mS" x="3819.49" y="100.1"/>
<rect x="3289.25" y="65" width="555.5" height="430" fill="none" stroke="#cccccc" stroke-width="1.74"/>
<text x="3567" y="52.5" font-size="41.67" text-anchor="middle">mlp.up_proj</text>
<text x="3567.8" y="566.2" font-size="41.67" text-anchor="middle">Layer Index</text>
<g font-size="19.8" text-anchor="middle"><text x="3314.5" y="523.5">0</text><text x="3395.95" y="523.5">5</text><text x="3477.4" y="523.5">10</text><text x="3558.85" y="523.5">15</text><text x="3640.3" y="523.5">20</text><text x="3721.75" y="523.5">25</text><text x="3803.2" y="523.5">30</text></g>
<g font-size="19.8" text-anchor="end" letter-spacing="0.15"><text x="3273.95" y="74.6">26</text><text x="3273.95" y="170.1">24</text><text x="3273.95" y="265.6">22</text><text x="3273.95" y="361.1">20</text><text x="3273.95" y="456.6">18</text></g>
</g>
<g>
<path d="M3947.33,495 V65 M4028.78,495 V65 M4110.23,495 V65 M4191.68,495 V65 M4273.13,495 V65 M4354.58,495 V65 M4436.03,495 V65 M3922.08,100.8 H4477.58 M3922.08,155.7 H4477.58 M3922.08,210.6 H4477.58 M3922.08,265.5 H4477.58 M3922.08,320.4 H4477.58 M3922.08,375.3 H4477.58 M3922.08,430.2 H4477.58 M3922.08,485.1 H4477.58" fill="none" stroke="#e1e1e1" stroke-width="1.8" stroke-dasharray="6.18 2.67"/>
<polyline points="3947.33,114.8 3963.62,100.1 3979.91,159.1 3996.2,160.5 4012.49,166.8 4028.78,168 4045.07,165.6 4061.36,168.6 4077.65,167.2 4093.94,171 4110.23,169.6 4126.52,168.4 4142.81,171.4 4159.1,173.8 4175.39,176.6 4191.68,176.1 4207.97,176.1 4224.26,178.4 4240.55,177.3 4256.84,177.3 4273.13,176.1 4289.42,176.6 4305.71,173.3 4322,173.3 4338.29,172.6 4354.58,176.6 4370.87,178.4 4387.16,180.3 4403.45,172.6 4419.74,171.9 4436.03,141.1 4452.32,135.3" fill="none" stroke="#FF8C00" stroke-opacity="0.8" stroke-linejoin="round" stroke-width="3.0" stroke-dasharray="11.1 4.8"/>
<use href="#mD" x="3947.33" y="114.8"/><use href="#mD" x="3963.62" y="100.1"/><use href="#mD" x="3979.91" y="159.1"/><use href="#mD" x="3996.2" y="160.5"/><use href="#mD" x="4012.49" y="166.8"/><use href="#mD" x="4028.78" y="168"/><use href="#mD" x="4045.07" y="165.6"/><use href="#mD" x="4061.36" y="168.6"/><use href="#mD" x="4077.65" y="167.2"/><use href="#mD" x="4093.94" y="171"/><use href="#mD" x="4110.23" y="169.6"/><use href="#mD" x="4126.52" y="168.4"/><use href="#mD" x="4142.81" y="171.4"/><use href="#mD" x="4159.1" y="173.8"/><use href="#mD" x="4175.39" y="176.6"/><use href="#mD" x="4191.68" y="176.1"/><use href="#mD" x="4207.97" y="176.1"/><use href="#mD" x="4224.26" y="178.4"/><use href="#mD" x="4240.55" y="177.3"/><use href="#mD" x="4256.84" y="177.3"/><use href="#mD" x="4273.13" y="176.1"/><use href="#mD" x="4289.42" y="176.6"/><use href="#mD" x="4305.71" y="173.3"/><use href="#mD" x="4322" y="173.3"/><use href="#mD" x="4338.29" y="172.6"/><use href="#mD" x="4354.58" y="176.6"/><use href="#mD" x="4370.87" y="178.4"/><use href="#mD" x="4387.16" y="180.3"/><use href="#mD" x="4403.45" y="172.6"/><use href="#mD" x="4419.74" y="171.9"/><use href="#mD" x="4436.03" y="141.1"/><use href="#mD" x="4452.32" y="135.3"/>
<polyline points="3947.33,94.1 3963.62,85.5 3979.91,139.5 3996.2,143.4 4012.49,149.5 4028.78,148.8 4045.07,147.6 4061.36,149.5 4077.65,148.3 4093.94,152.3 4110.23,149.5 4126.52,148.3 4142.81,149.5 4159.1,152.3 4175.39,155.3 4191.68,154.6 4207.97,154.6 4224.26,156.5 4240.55,155.8 4256.84,156.5 4273.13,154.6 4289.42,155.3 4305.71,152.3 4322,152.8 4338.29,151.1 4354.58,154.6 4370.87,155.3 4387.16,158.1 4403.45,148.8 4419.74,147.6 4436.03,118.5 4452.32,106.5" fill="none" stroke="#1E90FF" stroke-opacity="0.8" stroke-linejoin="round" stroke-width="2.9"/>
<use href="#mT" x="3947.33" y="94.1"/><use href="#mT" x="3963.62" y="85.5"/><use href="#mT" x="3979.91" y="139.5"/><use href="#mT" x="3996.2" y="143.4"/><use href="#mT" x="4012.49" y="149.5"/><use href="#mT" x="4028.78" y="148.8"/><use href="#mT" x="4045.07" y="147.6"/><use href="#mT" x="4061.36" y="149.5"/><use href="#mT" x="4077.65" y="148.3"/><use href="#mT" x="4093.94" y="152.3"/><use href="#mT" x="4110.23" y="149.5"/><use href="#mT" x="4126.52" y="148.3"/><use href="#mT" x="4142.81" y="149.5"/><use href="#mT" x="4159.1" y="152.3"/><use href="#mT" x="4175.39" y="155.3"/><use href="#mT" x="4191.68" y="154.6"/><use href="#mT" x="4207.97" y="154.6"/><use href="#mT" x="4224.26" y="156.5"/><use href="#mT" x="4240.55" y="155.8"/><use href="#mT" x="4256.84" y="156.5"/><use href="#mT" x="4273.13" y="154.6"/><use href="#mT" x="4289.42" y="155.3"/><use href="#mT" x="4305.71" y="152.3"/><use href="#mT" x="4322" y="152.8"/><use href="#mT" x="4338.29" y="151.1"/><use href="#mT" x="4354.58" y="154.6"/><use href="#mT" x="4370.87" y="155.3"/><use href="#mT" x="4387.16" y="158.1"/><use href="#mT" x="4403.45" y="148.8"/><use href="#mT" x="4419.74" y="147.6"/><use href="#mT" x="4436.03" y="118.5"/><use href="#mT" x="4452.32" y="106.5"/>
<polyline points="3947.33,267.3 3963.62,475.5 3979.91,210.1 3996.2,198.7 4012.49,189.8 4028.78,207.3 4045.07,192.9 4061.36,185.9 4077.65,196.8 4093.94,193.3 4110.23,186.8 4126.52,182.8 4142.81,206.2 4159.1,228.3 4175.39,239.3 4191.68,198.5 4207.97,220.9 4224.26,216 4240.55,216 4256.84,235.3 4273.13,201.5 4289.42,220.2 4305.71,200.3 4322,208 4338.29,206.9 4354.58,250 4370.87,205.5 4387.16,209.7 4403.45,192.9 4419.74,227.2 4436.03,186.3 4452.32,188.2" fill="none" stroke="#DC143C" stroke-opacity="0.8" stroke-linejoin="round" stroke-width="3.0" stroke-dasharray="11.1 4.8"/>
<use href="#mP" x="3947.33" y="267.3"/><use href="#mP" x="3963.62" y="475.5"/><use href="#mP" x="3979.91" y="210.1"/><use href="#mP" x="3996.2" y="198.7"/><use href="#mP" x="4012.49" y="189.8"/><use href="#mP" x="4028.78" y="207.3"/><use href="#mP" x="4045.07" y="192.9"/><use href="#mP" x="4061.36" y="185.9"/><use href="#mP" x="4077.65" y="196.8"/><use href="#mP" x="4093.94" y="193.3"/><use href="#mP" x="4110.23" y="186.8"/><use href="#mP" x="4126.52" y="182.8"/><use href="#mP" x="4142.81" y="206.2"/><use href="#mP" x="4159.1" y="228.3"/><use href="#mP" x="4175.39" y="239.3"/><use href="#mP" x="4191.68" y="198.5"/><use href="#mP" x="4207.97" y="220.9"/><use href="#mP" x="4224.26" y="216"/><use href="#mP" x="4240.55" y="216"/><use href="#mP" x="4256.84" y="235.3"/><use href="#mP" x="4273.13" y="201.5"/><use href="#mP" x="4289.42" y="220.2"/><use href="#mP" x="4305.71" y="200.3"/><use href="#mP" x="4322" y="208"/><use href="#mP" x="4338.29" y="206.9"/><use href="#mP" x="4354.58" y="250"/><use href="#mP" x="4370.87" y="205.5"/><use href="#mP" x="4387.16" y="209.7"/><use href="#mP" x="4403.45" y="192.9"/><use href="#mP" x="4419.74" y="227.2"/><use href="#mP" x="4436.03" y="186.3"/><use href="#mP" x="4452.32" y="188.2"/>
<polyline points="3947.33,114 3963.62,104.3 3979.91,158.3 3996.2,159.7 4012.49,166 4028.78,167.2 4045.07,164.8 4061.36,167.8 4077.65,166.4 4093.94,170.2 4110.23,168.8 4126.52,167.6 4142.81,170.6 4159.1,173 4175.39,175.8 4191.68,175.3 4207.97,175.3 4224.26,177.6 4240.55,176.5 4256.84,176.5 4273.13,175.3 4289.42,175.8 4305.71,172.5 4322,172.5 4338.29,171.8 4354.58,175.8 4370.87,177.6 4387.16,179.5 4403.45,171.8 4419.74,171.1 4436.03,140.3 4452.32,134.5" fill="none" stroke="#800080" stroke-opacity="0.8" stroke-linejoin="round" stroke-width="3.0" stroke-dasharray="3.0 4.95"/>
<use href="#mS" x="3947.33" y="114"/><use href="#mS" x="3963.62" y="104.3"/><use href="#mS" x="3979.91" y="158.3"/><use href="#mS" x="3996.2" y="159.7"/><use href="#mS" x="4012.49" y="166"/><use href="#mS" x="4028.78" y="167.2"/><use href="#mS" x="4045.07" y="164.8"/><use href="#mS" x="4061.36" y="167.8"/><use href="#mS" x="4077.65" y="166.4"/><use href="#mS" x="4093.94" y="170.2"/><use href="#mS" x="4110.23" y="168.8"/><use href="#mS" x="4126.52" y="167.6"/><use href="#mS" x="4142.81" y="170.6"/><use href="#mS" x="4159.1" y="173"/><use href="#mS" x="4175.39" y="175.8"/><use href="#mS" x="4191.68" y="175.3"/><use href="#mS" x="4207.97" y="175.3"/><use href="#mS" x="4224.26" y="177.6"/><use href="#mS" x="4240.55" y="176.5"/><use href="#mS" x="4256.84" y="176.5"/><use href="#mS" x="4273.13" y="175.3"/><use href="#mS" x="4289.42" y="175.8"/><use href="#mS" x="4305.71" y="172.5"/><use href="#mS" x="4322" y="172.5"/><use href="#mS" x="4338.29" y="171.8"/><use href="#mS" x="4354.58" y="175.8"/><use href="#mS" x="4370.87" y="177.6"/><use href="#mS" x="4387.16" y="179.5"/><use href="#mS" x="4403.45" y="171.8"/><use href="#mS" x="4419.74" y="171.1"/><use href="#mS" x="4436.03" y="140.3"/><use href="#mS" x="4452.32" y="134.5"/>
<rect x="3922.08" y="65" width="555.5" height="430" fill="none" stroke="#cccccc" stroke-width="1.74"/>
<text x="4199.83" y="52.5" font-size="41.67" text-anchor="middle">mlp.down_proj</text>
<text x="4200.63" y="566.2" font-size="41.67" text-anchor="middle">Layer Index</text>
<g font-size="19.8" text-anchor="middle"><text x="3947.33" y="523.5">0</text><text x="4028.78" y="523.5">5</text><text x="4110.23" y="523.5">10</text><text x="4191.68" y="523.5">15</text><text x="4273.13" y="523.5">20</text><text x="4354.58" y="523.5">25</text><text x="4436.03" y="523.5">30</text></g>
<g font-size="19.8" text-anchor="end" letter-spacing="0.4"><text x="3907.48" y="107.7">22.5</text><text x="3907.48" y="162.6">20.0</text><text x="3907.48" y="217.5">17.5</text><text x="3907.48" y="272.4">15.0</text><text x="3907.48" y="327.3">12.5</text><text x="3907.48" y="382.2">10.0</text><text x="3907.48" y="437.1">7.5</text><text x="3907.48" y="492">5.0</text></g>
</g>
<text transform="translate(52,280) rotate(-90)" font-size="41.67" text-anchor="middle">SNR (dB)</text>
<rect x="4134.5" y="291.2" width="327.9" height="187.3" rx="6.1" fill="#ffffff" fill-opacity="0.8" stroke="#cccccc" stroke-opacity="0.85" stroke-width="1.9"/>
<path d="M4146.5,316.2 H4209" fill="none" stroke="#FF8C00" stroke-opacity="0.8" stroke-width="3.2" stroke-dasharray="11.4 5.2"/>
<use href="#mDl" x="4177.75" y="316.2"/>
<text x="4233.9" y="326" font-size="30.56" letter-spacing="0.36">SpinQuant(W4)</text>
<path d="M4146.5,360.5 H4209" fill="none" stroke="#1E90FF" stroke-opacity="0.8" stroke-width="3.3" stroke-linecap="round"/>
<use href="#mTl" x="4177.75" y="360.5"/>
<text x="4233.9" y="370.3" font-size="30.56" letter-spacing="0.36">OptRot(all)</text>
<path d="M4146.5,404.8 H4209" fill="none" stroke="#DC143C" stroke-opacity="0.8" stroke-width="3.2" stroke-dasharray="11.4 5.2"/>
<use href="#mPl" x="4177.75" y="404.8"/>
<text x="4233.9" y="414.6" font-size="30.56" letter-spacing="0.36">No Rotation</text>
<path d="M4146.5,449.7 H4209" fill="none" stroke="#800080" stroke-opacity="0.8" stroke-width="3.1" stroke-dasharray="3.1 5.05"/>
<use href="#mSl" x="4177.75" y="449.7"/>
<text x="4233.9" y="459.5" font-size="30.56" letter-spacing="0.36">QuaRot</text>
</svg>
</body></html>
